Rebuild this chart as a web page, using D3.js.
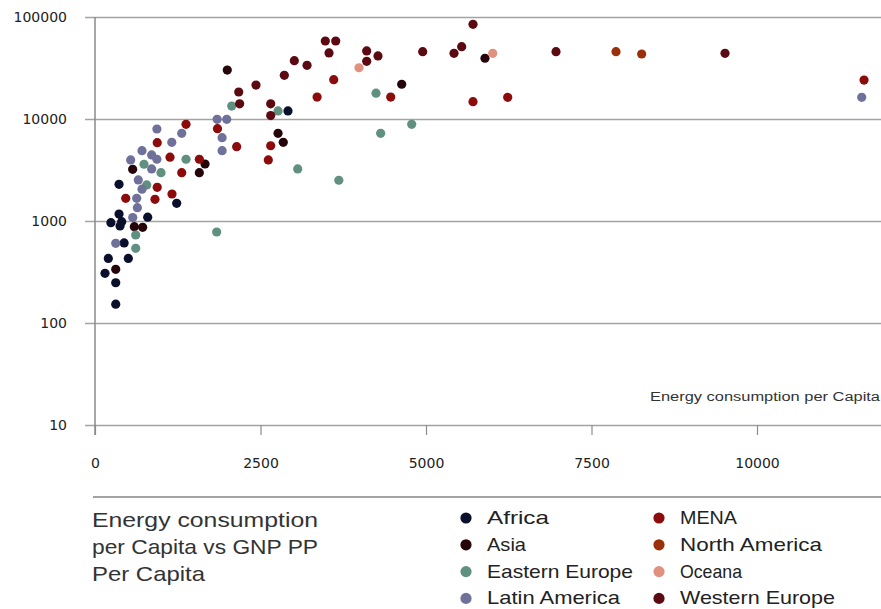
<!DOCTYPE html>
<html>
<head>
<meta charset="utf-8">
<script src="https://cdn.jsdelivr.net/npm/d3@7"></script>
<style>
  body { margin: 0; background: #fff; }
  text { font-family: "Liberation Sans", Arial, sans-serif; }
</style>
</head>
<body>
<div id="chart"></div>
<script>
// regions shown in the legend (two columns of four)
const regions = ["Africa", "Asia", "Eastern Europe", "Latin America",
                 "MENA", "North America", "Oceana", "Western Europe"];
const regionColors = ["#0a0f2c", "#26050a", "#60907f", "#6f719b",
                      "#8c0b0b", "#9a300a", "#e0917f", "#5c0a12"];

// [energy consumption per capita, GNP PP per capita]
const africa = [[313,153],[313,248],[151,307],[201,430],[503,430],[240,962],[403,985],
  [378,893],[363,1170],[440,610],[363,2290],[1234,1490],[796,1090],[2915,12000]];
const asia = [[313,336],[594,879],[720,867],[569,3210],[1576,2980],[1662,3620],[2765,7240],
  [2844,5910],[1998,30200],[4633,21900],[5891,39400]];
const easternEurope = [[615,729],[615,540],[1838,780],[740,3600],[997,2980],[781,2260],
  [1375,4030],[2065,13400],[2765,12000],[3062,3240],[3683,2510],[4245,17900],[4315,7240],[4784,8870]];
const latinAmerica = [[313,604],[570,1080],[640,1350],[630,1670],[710,2050],[654,2530],
  [856,3240],[539,3970],[935,4030],[856,4440],[710,4890],[1160,5910],[1310,7240],[935,7980],
  [1845,9930],[1990,9930],[1920,6560],[1920,4890],[11582,16300]];
const mena = [[940,5860],[1375,8870],[1133,4220],[1576,4030],[1310,2980],[940,2140],
  [464,1670],[906,1630],[1163,1840],[1850,8030],[2140,5350],[2654,5470],[2618,3970],
  [3355,16400],[4467,16400],[5710,14800],[6234,16300],[3606,24300],[11617,24100],[11950,45700]];
const northAmerica = [[7870,45700],[8258,43400]];
const oceana = [[3988,31800],[6008,44000]];
const westernEurope = [[2171,18400],[2185,14100],[2432,21500],[2654,14100],[2654,10800],
  [2860,26800],[3011,37300],[3203,33600],[3479,58200],[3636,58200],[3535,44400],[4104,46500],
  [4104,36800],[4275,41500],[4950,45700],[5423,44000],[5539,51200],[5710,84800],[6964,45700],
  [9517,44000]];
const series = [africa, asia, easternEurope, latinAmerica, mena, northAmerica, oceana, westernEurope];

const xTicks = [0, 2500, 5000, 7500, 10000];
const yTicks = [10, 100, 1000, 10000, 100000];
const titleLines = ["Energy consumption", "per Capita vs GNP PP", "Per Capita"];

const W = 881, H = 609;
const svg = d3.select("#chart").append("svg")
  .attr("width", W).attr("height", H);

const x = d3.scaleLinear().domain([0, 12000]).range([95, 889.4]);
const y = d3.scaleLog().domain([10, 100000]).range([425, 17]);
const color = d3.scaleOrdinal().domain(regions).range(regionColors);

// horizontal gridlines + y labels
const yAxis = svg.append("g")
  .attr("transform", "translate(85,0)")
  .call(d3.axisLeft(y).tickValues(yTicks).tickFormat(d3.format("d"))
    .tickSize(-(W - 85)).tickPadding(18));
yAxis.select(".domain").remove();
yAxis.selectAll("line").attr("stroke", "#a3a3a3").attr("stroke-width", 1.5);
yAxis.selectAll("text").attr("fill", "#222").style("font-size", "14px")
  .style("font-family", "DejaVu Sans, sans-serif");

// x axis ticks and labels
const xAxis = svg.append("g")
  .attr("transform", "translate(0,425)")
  .call(d3.axisBottom(x).tickValues(xTicks).tickFormat(d3.format("d"))
    .tickSize(10).tickPadding(23));
xAxis.select(".domain").remove();
xAxis.selectAll("line").attr("stroke", "#8a8a8a").attr("stroke-width", 1.2);
xAxis.selectAll("text").attr("fill", "#222").style("font-size", "14px")
  .style("font-family", "DejaVu Sans, sans-serif");

// vertical axis line
svg.append("line")
  .attr("x1", x(0)).attr("x2", x(0))
  .attr("y1", y(100000)).attr("y2", y(10) + 10)
  .attr("stroke", "#8a8a8a").attr("stroke-width", 1.5);

// axis caption
svg.append("text")
  .attr("x", 880).attr("y", 401)
  .attr("text-anchor", "end")
  .attr("fill", "#333")
  .style("font-size", "12px")
  .attr("textLength", 230).attr("lengthAdjust", "spacingAndGlyphs")
  .text("Energy consumption per Capita");

// points
series.forEach((pts, i) => {
  svg.append("g").selectAll("circle")
    .data(pts)
    .join("circle")
      .attr("cx", d => x(d[0]))
      .attr("cy", d => y(d[1]))
      .attr("r", 4.6)
      .attr("fill", color(regions[i]));
});

// separator line above legend
svg.append("line")
  .attr("x1", 93).attr("x2", W)
  .attr("y1", 497).attr("y2", 497)
  .attr("stroke", "#a3a3a3").attr("stroke-width", 2);

// legend title
const titleWidths = [226, 226, 113];
svg.append("g").selectAll("text")
  .data(titleLines)
  .join("text")
    .attr("x", 92)
    .attr("y", (d, i) => 527 + i * 27)
    .attr("fill", "#333")
    .style("font-size", "21px")
    .attr("textLength", (d, i) => titleWidths[i])
    .attr("lengthAdjust", "spacingAndGlyphs")
    .text(d => d);

// legend entries
const colX = [466, 659];
const itemWidths = [62, 39, 146, 133, 57, 142, 62, 155];
const legend = svg.append("g").selectAll("g")
  .data(regions)
  .join("g")
    .attr("transform", (d, i) =>
      `translate(${colX[Math.floor(i / 4)]},${518 + (i % 4) * 26.8})`);
legend.append("circle")
  .attr("r", 5.6)
  .attr("fill", d => color(d));
legend.append("text")
  .attr("x", 21).attr("dy", "0.32em")
  .attr("fill", "#222")
  .style("font-size", "19px")
  .attr("textLength", (d, i) => itemWidths[i])
  .attr("lengthAdjust", "spacingAndGlyphs")
  .text(d => d);
</script>
</body>
</html>
